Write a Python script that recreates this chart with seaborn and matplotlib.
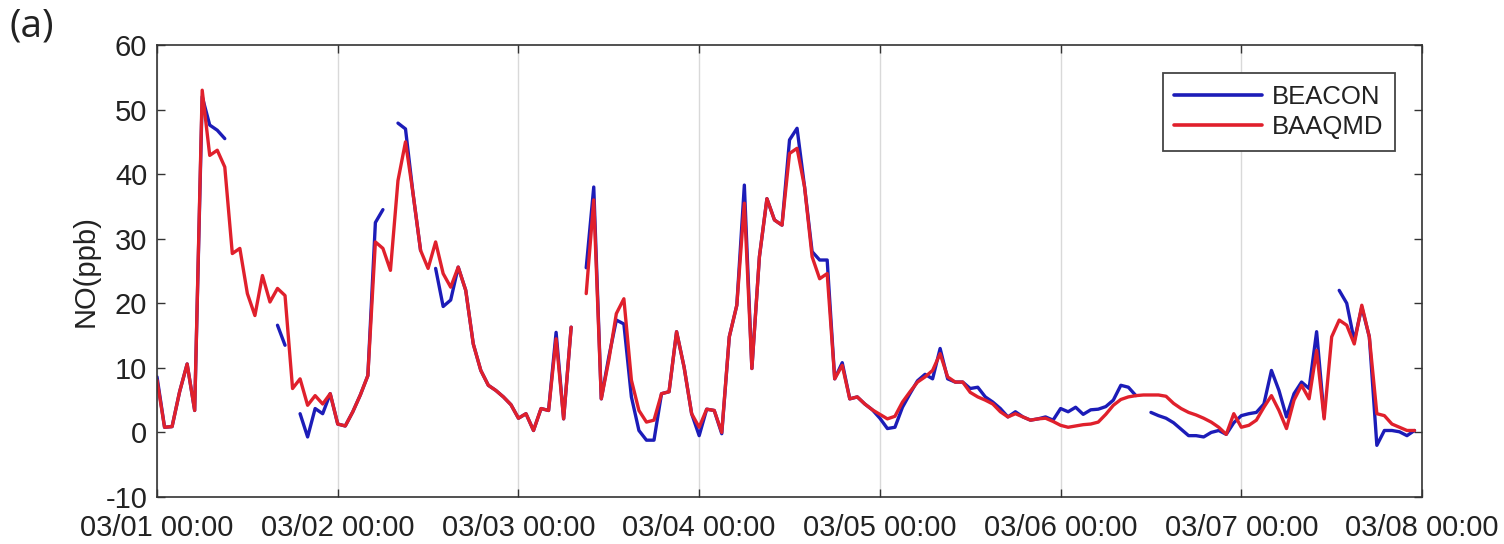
import numpy as np
import pandas as pd
import matplotlib
matplotlib.use("Agg")
import matplotlib.pyplot as plt
import matplotlib.dates as mdates
from matplotlib.lines import Line2D
import seaborn as sns

nan = np.nan

# Hourly NO concentrations (ppb), 03/01 00:00 through 03/07 23:00
beacon = [
    8.6, 0.8, 0.9, 6.3, 10.6, 3.4, 52.0, 47.6, 46.8, 45.5, nan, nan,
    nan, nan, nan, nan, 16.6, 13.5, nan, 2.9, -0.7, 3.7, 2.9, 6.0,
    1.3, 1.0, 3.2, 5.8, 8.8, 32.5, 34.5, nan, 47.9, 47.0, 37.0, 28.2,
    nan, 25.4, 19.5, 20.5, 25.6, 22.0, 13.7, 9.6, 7.3, 6.5, 5.5, 4.3,
    2.2, 2.9, 0.3, 3.7, 3.4, 15.5, 2.1, 16.3, nan, 25.5, 38.0, 5.2,
    11.7, 17.4, 16.8, 5.5, 0.3, -1.2, -1.2, 6.0, 6.3, 15.6, 10.1, 2.9,
    -0.5, 3.6, 3.4, -0.2, 14.8, 19.7, 38.3, 9.9, 27.2, 36.2, 32.9, 32.1,
    45.3, 47.1, 38.0, 28.0, 26.7, 26.7, 8.3, 10.8, 5.2, 5.5, 4.4, 3.5,
    2.2, 0.6, 0.8, 3.9, 6.0, 8.0, 9.0, 8.3, 13.0, 8.3, 7.8, 7.8,
    6.8, 7.0, 5.5, 4.7, 3.7, 2.4, 3.2, 2.4, 1.9, 2.1, 2.4, 1.9,
    3.7, 3.2, 3.9, 2.8, 3.5, 3.6, 4.0, 5.0, 7.3, 7.0, 5.7, nan,
    3.1, 2.6, 2.2, 1.5, 0.5, -0.5, -0.5, -0.7, 0.0, 0.3, -0.3, 1.5,
    2.6, 2.9, 3.1, 4.4, 9.6, 6.5, 2.4, 6.0, 7.8, 6.8, 15.6, 2.4,
    nan, 22.0, 20.0, 14.2, 19.4, 14.8, -2.0, 0.3, 0.3, 0.1, -0.5, 0.3,
]

baaqmd = [
    8.1, 0.8, 0.9, 6.3, 10.6, 3.4, 53.0, 42.9, 43.7, 41.1, 27.7, 28.5,
    21.5, 18.1, 24.3, 20.2, 22.3, 21.2, 6.8, 8.3, 4.2, 5.7, 4.4, 6.0,
    1.3, 1.0, 3.2, 5.8, 8.8, 29.5, 28.5, 25.1, 39.0, 45.0, 37.0, 28.2,
    25.4, 29.5, 24.6, 22.5, 25.6, 22.0, 13.7, 9.6, 7.3, 6.5, 5.5, 4.3,
    2.2, 2.9, 0.3, 3.7, 3.4, 14.5, 2.1, 16.3, nan, 21.5, 36.0, 5.2,
    11.2, 18.4, 20.7, 8.1, 3.4, 1.6, 1.9, 6.0, 6.3, 15.6, 10.1, 2.9,
    0.8, 3.6, 3.4, 0.0, 14.8, 19.7, 35.5, 9.9, 27.2, 36.2, 32.9, 32.1,
    43.2, 44.0, 38.0, 27.2, 23.8, 24.6, 8.3, 10.4, 5.2, 5.5, 4.4, 3.5,
    2.8, 2.1, 2.5, 4.7, 6.3, 7.8, 8.6, 9.6, 12.2, 8.6, 7.8, 7.8,
    6.2, 5.5, 5.0, 4.4, 3.2, 2.4, 2.9, 2.4, 1.9, 2.1, 2.2, 1.7,
    1.1, 0.8, 1.0, 1.2, 1.3, 1.6, 2.8, 4.2, 5.1, 5.5, 5.7, 5.8,
    5.8, 5.8, 5.6, 4.5, 3.7, 3.1, 2.7, 2.2, 1.6, 0.8, -0.3, 2.9,
    0.8, 1.1, 1.9, 3.9, 5.7, 3.4, 0.6, 5.0, 7.3, 5.2, 12.7, 2.1,
    14.8, 17.4, 16.6, 13.7, 19.7, 14.8, 2.9, 2.6, 1.3, 0.8, 0.3, 0.3,
]

stations = ["BEACON", "BAAQMD"]
colors = {"BEACON": "#1c1cb8", "BAAQMD": "#e0202c"}
y_ticks = [-10, 0, 10, 20, 30, 40, 50, 60]

start = pd.Timestamp("2017-03-01 00:00")
times = pd.date_range(start, periods=len(baaqmd), freq="h")
day_ticks = pd.date_range(start, periods=8, freq="D")


def to_frame(values, name):
    """Long table with a segment id so gaps in the record stay open."""
    vals = np.asarray(values, dtype=float)
    missing = np.isnan(vals)
    seg = np.cumsum(missing)
    df = pd.DataFrame({"time": times, "NO": vals, "station": name, "seg": seg})
    return df[~missing]


frames = {"BEACON": to_frame(beacon, "BEACON"), "BAAQMD": to_frame(baaqmd, "BAAQMD")}

sns.set_theme(style="ticks")
plt.rcParams["font.family"] = ["Liberation Sans", "DejaVu Sans"]
plt.rcParams["axes.unicode_minus"] = False

fig = plt.figure(figsize=(15.04, 5.44), dpi=100)
ax = fig.add_axes([0.1044, 0.0864, 0.8411, 0.8309])

for name in stations:
    sns.lineplot(
        data=frames[name], x="time", y="NO", units="seg", estimator=None,
        color=colors[name], lw=2.4, legend=False, ax=ax,
    )

ax.set_xlim(day_ticks[0], day_ticks[-1])
ax.set_ylim(-10, 60)
ax.set_yticks(y_ticks)
ax.set_xticks(day_ticks)
ax.xaxis.set_major_formatter(mdates.DateFormatter("%m/%d %H:%M"))

ax.grid(axis="x", color="#d9d9d9", lw=1.0)
ax.grid(axis="y", visible=False)

ax.tick_params(axis="both", which="both", direction="in", top=True, right=True,
               length=6, width=1.0, color="#333333", labelsize=21,
               labelcolor="#222222")
ax.tick_params(axis="x", pad=12.5)
ax.tick_params(axis="y", pad=7)
for sp in ax.spines.values():
    sp.set_color("#333333")
    sp.set_linewidth(1.2)

ax.set_xlabel("")
ax.set_ylabel("NO(ppb)", fontsize=21, color="#222222", labelpad=4)

handles = [Line2D([], [], color=colors[n], lw=2.6) for n in stations]
leg = ax.legend(handles, stations, loc="upper right",
                bbox_to_anchor=(1395 / 1504, 1 - 73 / 544),
                bbox_transform=fig.transFigure, borderaxespad=0,
                fontsize=18.5, handlelength=3.4, handletextpad=0.4,
                labelspacing=0.25, borderpad=0.45, fancybox=False,
                framealpha=1.0, edgecolor="#444444")
leg.get_frame().set_linewidth(1.3)
for t in leg.get_texts():
    t.set_color("#222222")

fig.text(0.006, 0.952, "(a)", fontsize=28, family=["Open Sans", "DejaVu Sans"],
         color="#222222", va="center", ha="left")

fig.savefig("out.png", dpi=100)
